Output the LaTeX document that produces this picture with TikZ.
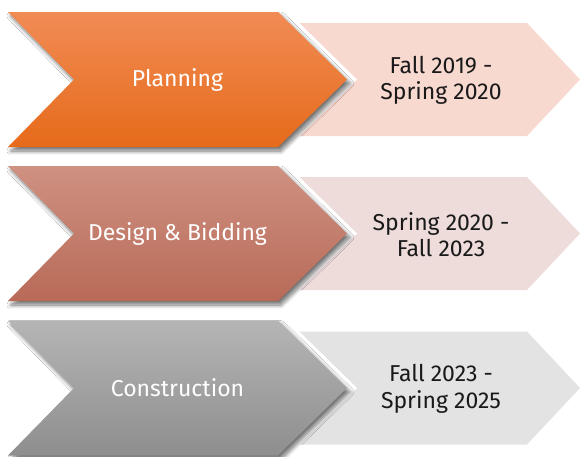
\documentclass[tikz,border=0pt]{standalone}
\usepackage{fontspec}
\setmainfont{Fira Sans}
\usetikzlibrary{shadows.blur}
\definecolor{orT}{HTML}{F18C55}
\definecolor{orM}{HTML}{F47E2E}
\definecolor{orB}{HTML}{E66A1A}
\definecolor{deT}{HTML}{CF9182}
\definecolor{deM}{HTML}{C77B69}
\definecolor{deB}{HTML}{B86A57}
\definecolor{grT}{HTML}{B5B5B5}
\definecolor{grM}{HTML}{A3A3A3}
\definecolor{grB}{HTML}{8E8E8E}
\definecolor{liA}{HTML}{F8D9D0}
\definecolor{liB}{HTML}{EEDCDB}
\definecolor{liC}{HTML}{E3E3E3}
\tikzset{
  phasetext/.style={text=white, font=\fontsize{23}{27}\selectfont, inner sep=0pt},
  datetext/.style={text=black!90, font=\fontsize{23}{26.5}\selectfont, align=center, inner sep=0pt},
  halo/.style={draw=white, line width=14pt, line join=miter},
  chevshadow/.style={blur shadow={shadow xshift=3pt, shadow yshift=-4pt, shadow blur radius=4pt, shadow blur steps=8, shadow opacity=55}}
}
\begin{document}
\begin{tikzpicture}[x=1pt,y=-1pt]
\useasboundingbox (0,0) rectangle (580,456);
\foreach \i/\oy/\ct/\cm/\cb/\cl/\lab/\dat in {
  1/0/orT/orM/orB/liA/{Planning}/{Fall 2019 -\\Spring 2020},
  2/154/deT/deM/deB/liB/{Design \& Bidding}/{Spring 2020 -\\Fall 2023},
  3/308.5/grT/grM/grB/liC/{Construction}/{Fall 2023 -\\Spring 2025}}
{
  \begin{scope}[shift={(0,\oy)}]
    \fill[\cl] (300,23) -- (527,23) -- (580,79.5) -- (527,136) -- (300,136) -- cycle;
    \path[halo] (8,12) -- (278,12) -- (347,79.5) -- (278,147) -- (8,147) -- (74,79.5) -- cycle;
    \path[chevshadow, top color=\ct, middle color=\cm, bottom color=\cb]
      (8,12) -- (278,12) -- (347,79.5) -- (278,147) -- (8,147) -- (74,79.5) -- cycle;
    \node[phasetext] (phase\i) at (177.5,79.5) {\lab};
    \node[datetext] (date\i) at (441,80.5) {\dat};
  \end{scope}
}
\end{tikzpicture}
\end{document}
